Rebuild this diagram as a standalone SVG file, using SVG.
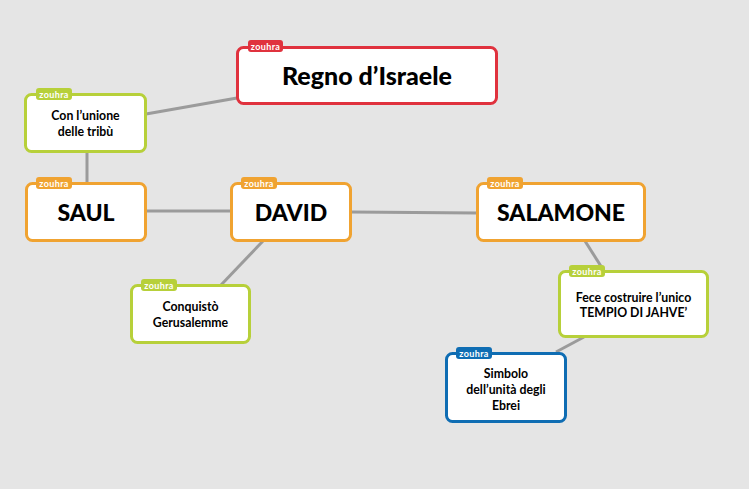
<svg xmlns="http://www.w3.org/2000/svg" width="749" height="489" viewBox="0 0 749 489">
<style>
.box{fill:#fff;stroke-width:3}
.red{stroke:#e0323e}.ora{stroke:#f0a331}.grn{stroke:#b7d03a}.blu{stroke:#0f6db3}
.tr{fill:#e0323e}.to{fill:#f0a331}.tg{fill:#b7d03a}.tb{fill:#0f6db3}
.tag{font-family:Lato,"Liberation Sans",sans-serif;font-weight:bold;font-size:9px;letter-spacing:0.4px;fill:#fff;text-anchor:middle}
.big{font-family:Lato,"Liberation Sans",sans-serif;font-weight:900;font-size:23px;fill:#000;text-anchor:middle}
.sm{font-family:Lato,"Liberation Sans",sans-serif;font-weight:bold;font-size:12.3px;fill:#000;text-anchor:middle}
.c{stroke:#9b9b9b;stroke-width:3;fill:none}
</style>
<rect width="749" height="489" fill="#e5e5e5"/>
<g id="connectors">
<line class="c" x1="237" y1="98" x2="146" y2="114"/>
<line class="c" x1="87" y1="152" x2="87" y2="183"/>
<line class="c" x1="146" y1="211" x2="231" y2="211"/>
<line class="c" x1="351" y1="212" x2="477" y2="213"/>
<line class="c" x1="263" y1="241" x2="221" y2="285"/>
<line class="c" x1="585" y1="241" x2="604" y2="271"/>
<line class="c" x1="584" y1="337" x2="556" y2="352"/>
</g>
<g id="regno">
<rect class="box red" x="237.5" y="47.5" width="259" height="56" rx="6"/>
<rect class="tr" x="248" y="40" width="35" height="12" rx="3"/>
<text class="tag" x="265.5" y="49.5">zouhra</text>
<text class="big" x="367" y="85" style="font-size:25px">Regno d’Israele</text>
</g>
<g id="unione">
<rect class="box grn" x="25.5" y="94.5" width="120" height="57" rx="6"/>
<rect class="tg" x="36" y="88" width="36" height="12" rx="3"/>
<text class="tag" x="54" y="97.5">zouhra</text>
<text class="sm" x="85.5" y="120">Con l’unione</text>
<text class="sm" x="85.5" y="136">delle tribù</text>
</g>
<g id="saul">
<rect class="box ora" x="26.5" y="183.5" width="119" height="57" rx="6"/>
<rect class="to" x="36" y="177" width="36" height="12" rx="3"/>
<text class="tag" x="54" y="186.5">zouhra</text>
<text class="big" x="86" y="221">SAUL</text>
</g>
<g id="david">
<rect class="box ora" x="231.5" y="183.5" width="119" height="57" rx="6"/>
<rect class="to" x="241" y="177" width="36" height="12" rx="3"/>
<text class="tag" x="259" y="186.5">zouhra</text>
<text class="big" x="291" y="221">DAVID</text>
</g>
<g id="salamone">
<rect class="box ora" x="477.5" y="183.5" width="167" height="57" rx="6"/>
<rect class="to" x="487" y="177" width="36" height="12" rx="3"/>
<text class="tag" x="505" y="186.5">zouhra</text>
<text class="big" x="561" y="221">SALAMONE</text>
</g>
<g id="conquisto">
<rect class="box grn" x="131.5" y="285.5" width="118" height="57" rx="6"/>
<rect class="tg" x="141" y="279" width="36" height="12" rx="3"/>
<text class="tag" x="159" y="288.5">zouhra</text>
<text class="sm" x="190.5" y="311">Conquistò</text>
<text class="sm" x="190.5" y="327">Gerusalemme</text>
</g>
<g id="fece">
<rect class="box grn" x="559.5" y="271.5" width="148" height="65" rx="6"/>
<rect class="tg" x="569" y="265" width="36" height="12" rx="3"/>
<text class="tag" x="587" y="274.5">zouhra</text>
<text class="sm" x="633.5" y="302">Fece costruire l’unico</text>
<text class="sm" x="633.5" y="317">TEMPIO DI JAHVE’</text>
</g>
<g id="simbolo">
<rect class="box blu" x="446.5" y="353.5" width="119" height="68" rx="6"/>
<rect class="tb" x="456" y="347" width="36" height="12" rx="3"/>
<text class="tag" x="474" y="356.5">zouhra</text>
<text class="sm" x="506" y="378">Simbolo</text>
<text class="sm" x="506" y="394">dell’unità degli</text>
<text class="sm" x="506" y="410">Ebrei</text>
</g>
</svg>
